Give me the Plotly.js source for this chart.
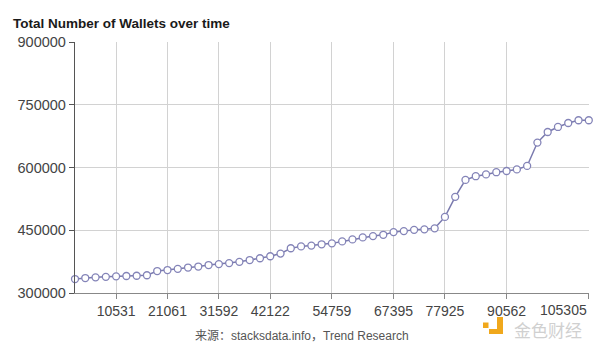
<!DOCTYPE html>
<html>
<head>
<meta charset="utf-8">
<script src="https://cdn.plot.ly/plotly-3.0.1.min.js"></script>
<style>html,body{margin:0;padding:0;background:#fff;}#chart{width:600px;height:346px;}</style>
</head>
<body>
<div id="chart"></div>
<script>
// Total wallets per sample
const walletCounts = [
  333400, 335800, 337500, 338700, 339900, 340600, 341300, 342500, 352500, 354900,
  357800, 360900, 363300, 366900, 369200, 371600, 374500, 378800, 383100, 387900,
  394300, 407000, 411500, 413400, 416500, 418700, 423400, 428200, 433000, 436100,
  439200, 445600, 448000, 451100, 452300, 454700, 481900, 529900, 570500, 579300,
  583600, 588900, 591800, 595600, 603900, 659800, 685100, 697100, 706600, 713100,
  713100
];
// positions (sample index) of the labelled x ticks and their labels
const xTickIndex = [4, 9, 14, 19, 25, 31, 36, 42, 50];
const xTickLabels = ['10531', '21061', '31592', '42122', '54759', '67395', '77925', '90562', '105305'];
const yTickValues = [300000, 450000, 600000, 750000, 900000];

const sampleIndex = walletCounts.map((_, i) => i);
const FONT = 'Liberation Sans, Arial, Noto Sans CJK SC, sans-serif';

const lastIdx = xTickIndex.length - 1;
// the last label is drawn right-aligned to its tick, as in the reference
const shownTickText = xTickLabels.map((t, i) => (i === lastIdx ? '' : t));

const trace = {
  x: sampleIndex,
  y: walletCounts,
  type: 'scatter',
  mode: 'lines+markers',
  cliponaxis: false,
  line: {color: '#7a7aae', width: 1.5},
  marker: {symbol: 'circle', size: 7, color: '#ffffff', line: {color: '#8484b8', width: 1.3}},
  hoverinfo: 'skip'
};

const layout = {
  width: 600, height: 346,
  margin: {l: 75, r: 11, t: 42, b: 53, pad: 0},
  paper_bgcolor: '#ffffff', plot_bgcolor: '#ffffff',
  showlegend: false,
  font: {family: FONT, color: '#444'},
  title: {
    text: '<b>Total Number of Wallets over time</b>',
    font: {family: FONT, size: 13.5, color: '#1a1a1a'},
    xref: 'container', yref: 'container',
    x: 13/600, xanchor: 'left', y: 1 - 23/346, yanchor: 'middle'
  },
  xaxis: {
    range: [0, 50.02],
    tickmode: 'array', tickvals: xTickIndex, ticktext: shownTickText,
    ticks: 'outside', ticklen: 5, tickcolor: '#888', tickwidth: 1,
    showline: true, linecolor: '#888', linewidth: 1.2,
    showgrid: true, gridcolor: '#d2d2d2', gridwidth: 1,
    zeroline: false,
    tickfont: {family: FONT, size: 14, color: '#444'},
    fixedrange: true
  },
  yaxis: {
    range: [300000, 900300],
    tickmode: 'array', tickvals: yTickValues, ticktext: yTickValues.map(String),
    ticks: 'outside', ticklen: 5, tickcolor: '#555', tickwidth: 1,
    showline: true, linecolor: '#555', linewidth: 1.2,
    showgrid: true, gridcolor: '#d2d2d2', gridwidth: 1,
    zeroline: false,
    tickfont: {family: FONT, size: 14.5, color: '#444'},
    fixedrange: true
  },
  shapes: [
    // watermark icon (decorative)
    {type: 'rect', xref: 'paper', yref: 'paper', layer: 'above',
     x0: (483-75)/514, x1: (488.5-75)/514, y0: (293-328)/251, y1: (293-322.5)/251,
     fillcolor: '#f0a81c', line: {width: 0}},
    {type: 'rect', xref: 'paper', yref: 'paper', layer: 'above',
     x0: (497-75)/514, x1: (503-75)/514, y0: (293-334)/251, y1: (293-317)/251,
     fillcolor: '#f0a81c', line: {width: 0}},
    {type: 'rect', xref: 'paper', yref: 'paper', layer: 'above',
     x0: (489-75)/514, x1: (503-75)/514, y0: (293-334)/251, y1: (293-329)/251,
     fillcolor: '#f0a81c', line: {width: 0}}
  ],
  annotations: [
    {text: xTickLabels[lastIdx], xref: 'x', yref: 'paper',
     x: xTickIndex[lastIdx], y: 0, yshift: -7, xanchor: 'right', yanchor: 'top',
     showarrow: false, font: {family: FONT, size: 14, color: '#444'}},
    {text: '来源：stacksdata.info，Trend Research', xref: 'paper', yref: 'paper',
     x: (302-75)/514, y: (293-336)/251, xanchor: 'center', yanchor: 'middle',
     showarrow: false, font: {family: FONT, size: 12, color: '#555'}},
    {text: '金色财经', xref: 'paper', yref: 'paper',
     x: (548-75)/514, y: (293-329)/251, xanchor: 'center', yanchor: 'middle',
     borderpad: 0,
     showarrow: false, font: {family: 'Noto Sans CJK SC, sans-serif', size: 17, color: '#d0d0d0'}}
  ]
};

Plotly.newPlot('chart', [trace], layout, {displayModeBar: false, staticPlot: true});
</script>
</body>
</html>
